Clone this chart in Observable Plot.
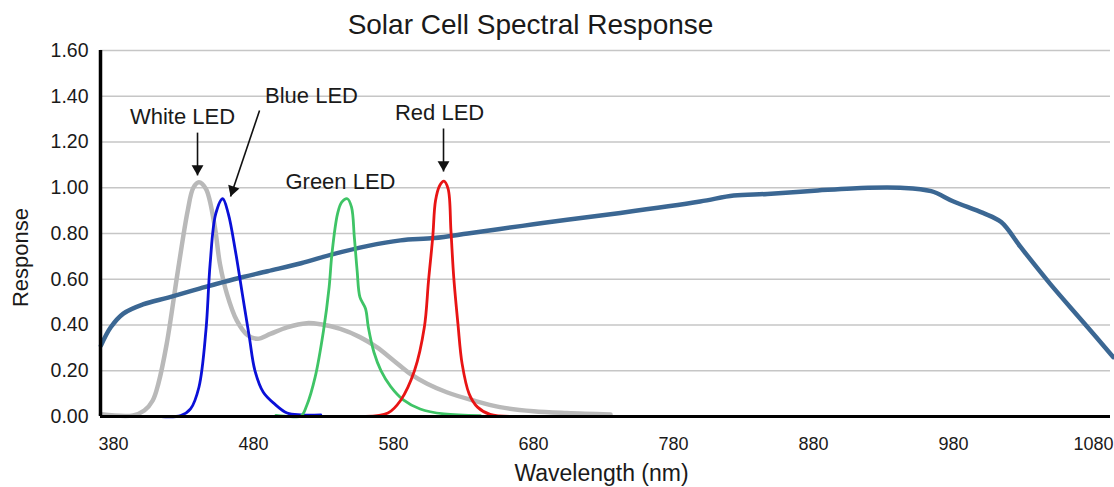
<!DOCTYPE html>
<html>
<head>
<meta charset="utf-8">
<script src="https://cdn.jsdelivr.net/npm/d3@7"></script>
<script src="https://cdn.jsdelivr.net/npm/@observablehq/plot@0.6"></script>
<style>
  html, body { margin: 0; padding: 0; background: #fff; }
  #chart { width: 1114px; height: 487px; }
</style>
</head>
<body>
<div id="chart"></div>
<script>
// ---- tick labels ----
const wavelengthTicks = [380, 480, 580, 680, 780, 880, 980, 1080];
const responseTicks = [0, 0.2, 0.4, 0.6, 0.8, 1.0, 1.2, 1.4, 1.6];

// ---- series: solar cell ----
const solarNm = [371, 378, 387, 401, 419, 442, 466, 490, 514, 537, 561, 585, 609, 633, 656, 680, 704, 742, 799, 823, 847, 883, 919, 942, 964, 980, 1001, 1014, 1028, 1049, 1073, 1094];
const solarResp = [0.31, 0.39, 0.45, 0.49, 0.52, 0.56, 0.60, 0.635, 0.67, 0.71, 0.745, 0.77, 0.78, 0.80, 0.82, 0.84, 0.86, 0.89, 0.94, 0.966, 0.973, 0.988, 1.0, 1.0, 0.985, 0.94, 0.89, 0.85, 0.74, 0.58, 0.41, 0.26];

// ---- series: white LED ----
const whiteNm = [371, 394, 402, 408, 412, 418, 426, 433, 437, 441, 446, 452, 456, 461, 468, 476, 483, 492, 504, 518, 528, 542, 556, 568, 580, 592, 604, 618, 637, 656, 680, 704, 735];
const whiteResp = [0.01, 0.005, 0.026, 0.07, 0.143, 0.318, 0.638, 0.90, 1.00, 1.024, 0.995, 0.842, 0.667, 0.536, 0.42, 0.354, 0.34, 0.361, 0.39, 0.408, 0.403, 0.383, 0.347, 0.303, 0.245, 0.186, 0.143, 0.106, 0.070, 0.041, 0.023, 0.015, 0.009];

// ---- series: blue LED ----
const blueNm = [414, 428, 435, 441, 446, 449, 453, 458, 462, 467, 472, 477, 481, 487, 495, 504, 514, 528];
const blueResp = [0.0, 0.004, 0.033, 0.128, 0.376, 0.667, 0.886, 0.952, 0.886, 0.726, 0.536, 0.347, 0.201, 0.106, 0.055, 0.015, 0.007, 0.007];

// ---- series: green LED ----
const greenNm = [496, 506, 514, 518, 524, 530, 534, 536, 540, 543, 547, 550, 552, 554, 556, 560, 562, 566, 571, 578, 587, 599, 616, 642];
const greenResp = [0.005, 0.0, 0.002, 0.048, 0.172, 0.376, 0.565, 0.711, 0.886, 0.937, 0.952, 0.915, 0.784, 0.638, 0.522, 0.471, 0.390, 0.281, 0.201, 0.131, 0.073, 0.033, 0.011, 0.004];

// ---- series: red LED ----
const redNm = [560, 576, 585, 595, 602, 605, 608, 610, 613, 616, 619, 621, 623, 626, 629, 634, 640, 649, 664];
const redResp = [0.0, 0.015, 0.070, 0.201, 0.390, 0.594, 0.784, 0.944, 1.010, 1.029, 0.995, 0.813, 0.609, 0.405, 0.230, 0.099, 0.041, 0.009, 0.0];

// ---- annotations ----
const annotLabels = ["White LED", "Blue LED", "Green LED", "Red LED"];
const annotNm = [429.3, 521.4, 542.1, 612.9];
const annotResp = [1.309, 1.403, 1.027, 1.325];
const arrowFromNm = [440, 484.3, 615.7];
const arrowFromResp = [1.241, 1.338, 1.259];
const arrowToNm = [440, 463.6, 615.7];
const arrowToResp = [1.054, 0.962, 1.071];

// ---- build tables ----
const toRows = (xs, ys) => xs.map((x, i) => ({nm: x, resp: ys[i]}));
const solar = toRows(solarNm, solarResp);
const white = toRows(whiteNm, whiteResp);
const blue = toRows(blueNm, blueResp);
const green = toRows(greenNm, greenResp);
const red = toRows(redNm, redResp);
const labels = annotLabels.map((t, i) => ({t, nm: annotNm[i], resp: annotResp[i]}));

const W = 1114, H = 487, mT = 50, mB = 71, mL = 100, mR = 4;
const xDomain = [370.7, 1092.1];
const yDomain = [0, 1.6];
const kx = (W - mL - mR) / (xDomain[1] - xDomain[0]);
const ky = (H - mT - mB) / (yDomain[1] - yDomain[0]);
const headR = 4.4;
const tipDist = 2 * Math.sqrt(Math.PI * headR * headR / (3 * Math.sqrt(3)));
const arrows = arrowFromNm.map((x1, i) => {
  const dxp = (arrowToNm[i] - x1) * kx;
  const dyp = -(arrowToResp[i] - arrowFromResp[i]) * ky;
  const len = Math.hypot(dxp, dyp);
  const ux = dxp / len, uy = dyp / len;
  const ang = Math.atan2(ux, -uy) * 180 / Math.PI;
  return {x1, y1: arrowFromResp[i], x2: arrowToNm[i], y2: arrowToResp[i], rot: ang, ox: -ux * tipDist, oy: -uy * tipDist};
});

const font = "'Liberation Sans', Arial, Helvetica, sans-serif";

const chart = Plot.plot({
  width: W, height: H,
  marginTop: mT, marginBottom: mB, marginLeft: mL, marginRight: mR,
  style: {fontFamily: font, fontSize: "18px", color: "#1a1a1a", background: "#fff", overflow: "visible"},
  x: {domain: xDomain, ticks: wavelengthTicks},
  y: {domain: yDomain, ticks: responseTicks},
  marks: [
    Plot.gridY(responseTicks, {stroke: "#c6c6c6", strokeOpacity: 1, strokeWidth: 1.5}),
    Plot.axisY({ticks: responseTicks, tickSize: 0, tickPadding: 12, tickFormat: d3.format(".2f"), label: null, fontSize: 19.5}),
    Plot.axisX({ticks: wavelengthTicks, tickSize: 0, tickPadding: 21, tickFormat: d => String(d), label: null, fontSize: 18}),
    Plot.line(white, {x: "nm", y: "resp", stroke: "#b9b9b9", strokeWidth: 4.5, curve: "catmull-rom"}),
    Plot.line(solar, {x: "nm", y: "resp", stroke: "#3b6793", strokeWidth: 4.5, curve: "catmull-rom"}),
    Plot.line(blue, {x: "nm", y: "resp", stroke: "#0a10d8", strokeWidth: 2.8, curve: "catmull-rom"}),
    Plot.line(green, {x: "nm", y: "resp", stroke: "#3fc466", strokeWidth: 2.8, curve: "catmull-rom"}),
    Plot.line(red, {x: "nm", y: "resp", stroke: "#e81414", strokeWidth: 2.8, curve: "catmull-rom"}),
    Plot.ruleY([yDomain[0]], {stroke: "#000", strokeWidth: 3}),
    Plot.ruleX([xDomain[0]], {stroke: "#000", strokeWidth: 3.5}),
    Plot.link(arrows, {x1: "x1", y1: "y1", x2: "x2", y2: "y2", stroke: "#111", strokeWidth: 1.6}),
    ...arrows.map(a => Plot.dot([a], {x: "x2", y: "y2", symbol: "triangle", r: headR, fill: "#111", stroke: "none", rotate: a.rot, dx: a.ox, dy: a.oy})),
    Plot.text(labels, {x: "nm", y: "resp", text: "t", fontSize: 22, fill: "#1a1a1a"}),
    Plot.text(["Solar Cell Spectral Response"], {frameAnchor: "top", textAnchor: "middle", lineAnchor: "middle", dx: -75, dy: -25, fontSize: 28, fill: "#1a1a1a"}),
    Plot.text(["Wavelength (nm)"], {frameAnchor: "bottom", textAnchor: "middle", lineAnchor: "middle", dx: -4, dy: 57, fontSize: 23, fill: "#1a1a1a"}),
    Plot.text(["Response"], {frameAnchor: "left", textAnchor: "middle", lineAnchor: "middle", dx: -80, dy: 24, rotate: -90, fontSize: 22, fill: "#1a1a1a"})
  ]
});
document.getElementById("chart").appendChild(chart);
</script>
</body>
</html>
